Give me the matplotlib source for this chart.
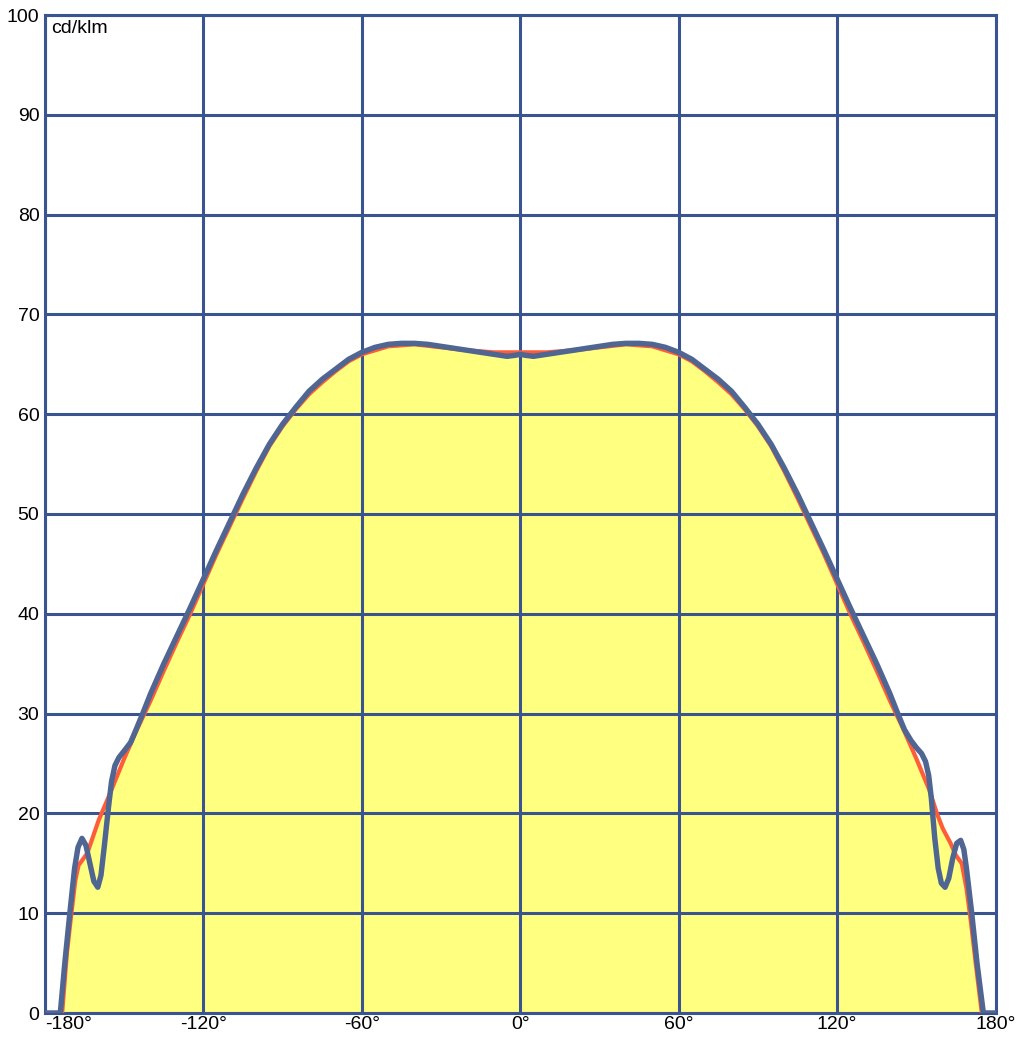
import matplotlib
matplotlib.use("Agg")
import matplotlib.pyplot as plt

plt.rcParams["font.family"] = ["Liberation Sans", "DejaVu Sans"]

# measured curve (blue)
blue_deg = [-180, -174.2, -172.5, -170.6, -168.8, -167.5, -166, -164.5, -163, -161.5, -160,
            -158.8, -157.5, -156, -154.8, -153.5, -152, -150.2, -147.6, -145.5, -143, -140,
            -135, -130, -125, -120, -115, -110, -105, -100, -95, -90, -85, -80, -75, -70,
            -65, -60, -55, -50, -45, -40, -35, -30, -25, -20, -15, -10, -5, -2, 0, 2, 5,
            10, 15, 20, 25, 30, 35, 40, 45, 50, 55, 60, 65, 70, 75, 80, 85, 90, 95, 100,
            105, 110, 115, 120, 125, 130, 135, 140, 143, 145.5, 148, 150, 152, 153.5, 154.7,
            155.7, 157, 158.3, 159.5, 160.9, 162.3, 163.8, 165.3, 166.8, 168, 169, 171, 173,
            175.4, 180]
blue_val = [0, 0, 5, 10, 14.5, 16.6, 17.5, 16.8, 15, 13.2, 12.6,
            13.8, 16.8, 20.5, 23.2, 24.8, 25.6, 26.2, 27.1, 28.4, 30, 32,
            35, 37.8, 40.6, 43.5, 46.4, 49.2, 52, 54.6, 57, 59, 60.7, 62.3, 63.5, 64.5,
            65.5, 66.2, 66.7, 67, 67.1, 67.1, 67, 66.8, 66.6, 66.4, 66.2, 66, 65.8, 65.9, 66, 65.9, 65.8,
            66, 66.2, 66.4, 66.6, 66.8, 67, 67.1, 67.1, 67, 66.7, 66.2, 65.5, 64.5, 63.5, 62.3, 60.7, 59, 57, 54.6,
            52, 49.2, 46.4, 43.5, 40.6, 37.8, 35, 32, 30, 28.4, 27.3, 26.6, 26, 25.2, 23.8,
            21.5, 17.5, 14.5, 13, 12.6, 13.5, 15.5, 17, 17.3, 16.4, 14.5, 10, 5,
            0, 0]

# reference curve (red, filled)
red_deg = [-180, -173.5, -171.7, -170, -168.5, -167.3, -164, -159.7, -156, -150, -145, -140,
           -135, -130, -125, -120, -115, -110, -105, -100, -95, -90, -85, -80, -75, -70,
           -65, -60, -50, -40, -30, -20, -10, 0, 10, 20, 30, 40, 50, 60, 65, 70, 75, 80,
           85, 90, 95, 100, 105, 110, 115, 120, 125, 130, 135, 140, 145, 150, 155, 157.8,
           160, 163, 165, 167.2, 169, 170.5, 172.5, 174.8, 180]
red_val = [0, 0, 6, 10, 13.3, 14.8, 16, 19.3, 21.6, 25.5, 28.5, 31.3,
           34.3, 37.2, 40, 43, 46, 48.8, 51.6, 54.3, 56.8, 58.8, 60.5, 62, 63.2, 64.3,
           65.3, 66, 66.8, 67, 66.7, 66.4, 66.2, 66.2, 66.2, 66.4, 66.7, 67, 66.8, 66, 65.3, 64.3, 63.2, 62,
           60.5, 58.8, 56.8, 54.3, 51.6, 48.8, 46, 43, 40, 37.2, 34.3, 31.3, 28.5, 25.5, 22.3, 20,
           18.5, 17, 15.8, 15, 12.5, 9.5, 5, 0, 0]

x_ticks = [-180, -120, -60, 0, 60, 120, 180]
x_labels = ["-180°", "-120°", "-60°", "0°", "60°", "120°", "180°"]
y_ticks = [0, 10, 20, 30, 40, 50, 60, 70, 80, 90, 100]

grid_color = "#3a5391"
blue_color = "#4f6592"
red_color = "#ff5c3a"
fill_color = "#ffff80"

fig = plt.figure(figsize=(10.18, 10.38), dpi=100)
ax = fig.add_axes([45 / 1018, 25 / 1038, 950.5 / 1018, 998 / 1038])

ax.fill_between(red_deg, red_val, 0, color=fill_color, lw=0, zorder=1)
for x in x_ticks:
    ax.axvline(x, color=grid_color, lw=2.2, zorder=2)
for y in y_ticks:
    ax.axhline(y, color=grid_color, lw=2.2, zorder=2)
ax.plot(red_deg, red_val, color=red_color, lw=3.0, zorder=3, solid_joinstyle="round")
ax.plot(blue_deg, blue_val, color=blue_color, lw=3.9, zorder=4,
        solid_joinstyle="round", solid_capstyle="round")

ax.set_xlim(-180, 180)
ax.set_ylim(0, 100)
ax.set_xticks(x_ticks)
ax.set_xticklabels(x_labels)
ax.set_yticks(y_ticks)
ax.tick_params(length=0, labelsize=14, pad=4, colors="black")
ax.tick_params(axis="x", pad=2)
ax.get_xticklabels()[0].set_horizontalalignment("left")
for s in ax.spines.values():
    s.set_color(grid_color)
    s.set_linewidth(2.2)

ax.text(0.006, 0.995, "cd/klm", transform=ax.transAxes, ha="left", va="top", fontsize=14)

fig.savefig("out.png", dpi=100)
